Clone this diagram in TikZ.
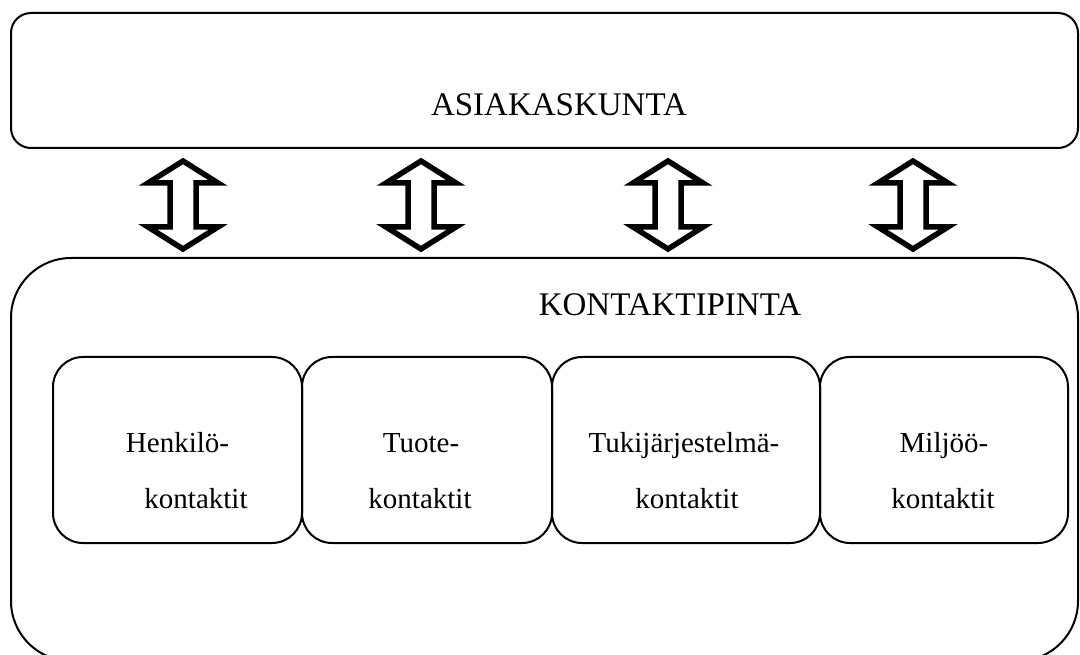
\documentclass[tikz,border=0pt]{standalone}
\usepackage{fontspec}
\setmainfont{Liberation Serif}
\begin{document}
\begin{tikzpicture}[x=1pt,y=-1pt,
  box/.style={draw, line width=2pt, inner sep=0pt, rounded corners=#1},
  inner/.style={box=30pt, minimum height=186pt},
  head/.style={font=\fontsize{33}{40}\selectfont, anchor=base, inner sep=0pt},
  boxtext/.style={font=\fontsize{29}{34}\selectfont, anchor=base, inner sep=0pt},
  dblarrow/.style={draw, line width=5.5pt, fill=white, line join=miter, miter limit=10}]
\useasboundingbox (0,0) rectangle (1080,655);
\clip (0,0) rectangle (1080,655);
% top box
\node[box=20pt, minimum width=1067pt, minimum height=135pt] (top) at (544.5,80.5) {};
\node[head] (toplabel) at (559,116) {ASIAKASKUNTA};
% big box
\node[box=60pt, minimum width=1067pt, minimum height=403pt] (contact) at (544.5,459.5) {};
\node[head] (contactlabel) at (670,316) {KONTAKTIPINTA};
% inner boxes
\node[inner, minimum width=249pt] (b1) at (177.5,450) {};
\node[inner, minimum width=250pt] (b2) at (427,450) {};
\node[inner, minimum width=268pt] (b3) at (686,450) {};
\node[inner, minimum width=248pt] (b4) at (944,450) {};
\node[boxtext] (b1a) at (177.5,452) {Henkilö-};
\node[boxtext] (b1b) at (196,508) {kontaktit};
\node[boxtext] (b2a) at (421,452) {Tuote-};
\node[boxtext] (b2b) at (420,508) {kontaktit};
\node[boxtext] (b3a) at (684,452) {Tukijärjestelmä-};
\node[boxtext] (b3b) at (687,508) {kontaktit};
\node[boxtext] (b4a) at (944,452) {Miljöö-};
\node[boxtext] (b4b) at (943,508) {kontaktit};
% double arrows between the two big boxes
\foreach \cx in {183,421,668,913} {
  \coordinate (t\cx) at (\cx,161);
  \draw[dblarrow] (t\cx) -- ++(35,22) -- ++(-22,0) -- ++(0,44) -- ++(22,0) -- ++(-35,22) -- ++(-35,-22) -- ++(22,0) -- ++(0,-44) -- ++(-22,0) -- cycle;
}
\end{tikzpicture}
\end{document}
